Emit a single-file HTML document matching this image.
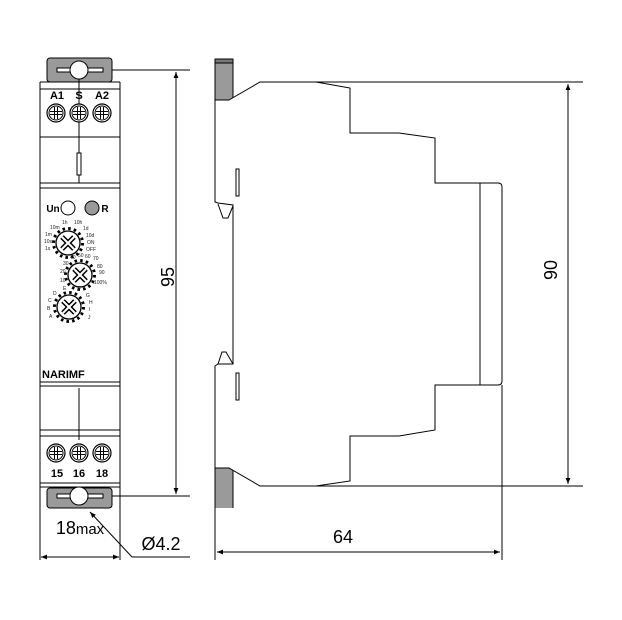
<!DOCTYPE html>
<html><head><meta charset="utf-8"><style>
html,body{margin:0;padding:0;background:#fff}
svg{display:block}
text{font-family:"Liberation Sans",sans-serif}
</style></head><body>
<svg width="622" height="620" viewBox="0 0 622 620" xmlns="http://www.w3.org/2000/svg">
<defs>
<marker id="ar" viewBox="0 0 10 10" refX="10" refY="5" markerWidth="12" markerHeight="6" markerUnits="userSpaceOnUse" orient="auto-start-reverse"><path d="M0,1 L10,5 L0,9 z" fill="#000"/></marker>
<g id="screw"><circle r="9" fill="#fff" stroke="#000" stroke-width="1.2"/><circle r="7" fill="none" stroke="#000" stroke-width="1"/><path d="M-6,-1.5H6M-6,1.5H6M-1.5,-6V6M1.5,-6V6" stroke="#000" stroke-width="1"/></g>
<g id="dial"><circle r="12" fill="#fff" stroke="#000" stroke-width="1.3"/><circle r="14.5" fill="none" stroke="#000" stroke-width="3" stroke-dasharray="2.5 3.2"/><path d="M-6,-6L6,6M6,-6L-6,6" stroke="#000" stroke-width="5"/><path d="M-6,-6L6,6M6,-6L-6,6" stroke="#fff" stroke-width="2"/></g>
</defs>
<g fill="none" stroke="#000" stroke-width="1">
<!-- front view -->
<rect x="47" y="58" width="65" height="24" rx="3" fill="#9a9a9a" stroke="#000"/>
<rect x="47" y="488" width="65" height="20" rx="3" fill="#9a9a9a" stroke="#000"/>
<path d="M40,82V560M120,82V560M40,82H120M40,89H120M40,137H120M40,183H120M40,188H120M40,382H120M40,386H120M40,430H120M40,436H120M40,483H120M40,487H120"/>
<rect x="57" y="68" width="46" height="4" fill="#fff"/>
<circle cx="79" cy="70" r="9" fill="#fff"/>
<rect x="57" y="494" width="46" height="4" fill="#fff"/>
<circle cx="79" cy="496" r="9" fill="#fff"/>
<path d="M79,79V153M79,175V183M79,388V440"/>
<rect x="77" y="153" width="4" height="22" fill="#fff"/>
<circle cx="68" cy="208" r="7" fill="#fff"/>
<circle cx="92" cy="208" r="7" fill="#9a9a9a"/>
<!-- 95 dimension -->
<path d="M112,70H190M112,496H190"/>
<path d="M176,72V494" marker-start="url(#ar)" marker-end="url(#ar)"/>
<!-- 18max -->
<path d="M41,557H119" marker-start="url(#ar)" marker-end="url(#ar)"/>
<path d="M190,557H132L90,512" marker-end="url(#ar)"/>
<!-- side view -->
<rect x="215" y="59" width="18" height="41" fill="#9a9a9a"/>
<rect x="215" y="59" width="18" height="4" fill="#777"/>
<rect x="215" y="468" width="18" height="40" fill="#9a9a9a" stroke="none"/>
<path d="M215,468V508M233,468V508"/>
<path d="M229,100L260,82H316L350,88V133H399L435,138V183H498Q502,183 502,187V381Q502,385 498,385H435V430L399,436H350V481L316,486H260L229,468H215V366L218,364H233V205L218,203L215,202V100Z" fill="#fff"/>
<path d="M480,183V385"/>
<path d="M218,204L223,218H228L233,206M218,364L222,352H226L233,364"/>
<rect x="236" y="169" width="3" height="27" fill="#fff"/>
<rect x="236" y="373" width="3" height="27" fill="#fff"/>
<!-- 90 dim -->
<path d="M316,82H583M260,486H583"/>
<path d="M568,84V484" marker-start="url(#ar)" marker-end="url(#ar)"/>
<!-- 64 dim -->
<path d="M215,508V560M502,385V560"/>
<path d="M217,552H500" marker-start="url(#ar)" marker-end="url(#ar)"/>
</g>
<use href="#screw" x="56" y="113"/><use href="#screw" x="79" y="113"/><use href="#screw" x="102" y="113"/>
<use href="#screw" x="56" y="453"/><use href="#screw" x="79" y="453"/><use href="#screw" x="102" y="453"/>
<use href="#dial" x="68" y="243"/><use href="#dial" x="80" y="275"/><use href="#dial" x="69" y="307"/>
<g font-weight="bold" font-size="11" text-anchor="middle">
<text x="57" y="99">A1</text><text x="79" y="99">S</text><text x="102" y="99">A2</text>
<text x="57" y="477">15</text><text x="79" y="477">16</text><text x="102" y="477">18</text>
<text x="53" y="212" font-size="10">Un</text><text x="105" y="212" font-size="10">R</text>
</g>
<text x="42" y="378" font-weight="bold" font-size="11">NARIMF</text>
<g font-size="5" fill="#222">
<text x="62" y="224">1h</text><text x="74" y="224">10h</text><text x="50" y="229">10m</text><text x="83" y="230">1d</text>
<text x="45" y="236">1m</text><text x="86" y="237">10d</text><text x="44" y="243">10s</text><text x="87" y="244">ON</text>
<text x="45" y="250">1s</text><text x="86" y="251">OFF</text>
<text x="70" y="259">40</text><text x="78" y="257">50</text><text x="85" y="258">60</text><text x="93" y="260">70</text>
<text x="63" y="265">30</text><text x="97" y="268">80</text><text x="60" y="273">20</text><text x="99" y="274">90</text>
<text x="60" y="282">10</text><text x="94" y="284">100%</text>
<text x="63" y="290">E</text><text x="78" y="290">F</text><text x="53" y="295">D</text><text x="86" y="297">G</text>
<text x="48" y="302">C</text><text x="89" y="304">H</text><text x="47" y="310">B</text><text x="89" y="311">I</text>
<text x="49" y="318">A</text><text x="88" y="319">J</text>
</g>
<g font-size="18" text-anchor="middle">
<text x="80" y="534">18<tspan font-size="15">max</tspan></text>
<text x="161" y="550">Ø4.2</text>
<text x="343" y="543">64</text>
<text transform="translate(174,277) rotate(-90)">95</text>
<text transform="translate(557,270) rotate(-90)">90</text>
</g>
</svg>
</body></html>
